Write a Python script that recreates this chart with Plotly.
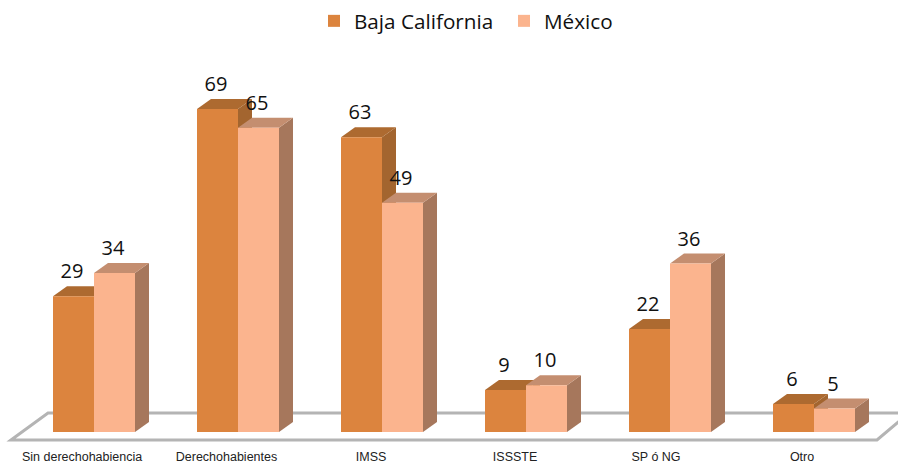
import plotly.graph_objects as go

# Data
categories = ["Sin derechohabiencia", "Derechohabientes", "IMSS", "ISSSTE", "SP ó NG", "Otro"]
baja_california = [29, 69, 63, 9, 22, 6]
mexico = [34, 65, 49, 10, 36, 5]
series_names = ["Baja California", "México"]
tick_positions = [-0.083, 0.92, 1.924, 2.924, 3.903, 4.917]

# Style
W, H = 898, 462
PX_X = 144.0          # pixels per category
PX_Y = 4.68           # pixels per value unit
BASE_PX = 432
PLOT_BOTTOM = 447
DEPTH_X = 14 / PX_X
DEPTH_Y = 10 / PX_Y
LABEL_LIFT = 3 / PX_Y
LABEL_SHIFT = -1.5 / PX_X
BAR_W = 41 / PX_X
colors_front = ["#DC843E", "#FBB48E"]
colors_top = ["#AD6A30", "#C48E70"]
colors_side = ["#A3652F", "#A6775C"]
FLOOR = "#B4B4B4"

x_pos = list(range(len(categories)))
x_rng = [-94 / PX_X, (W - 94) / PX_X]
y_rng = [-(PLOT_BOTTOM - BASE_PX) / PX_Y, BASE_PX / PX_Y]

fig = go.Figure()
shapes = []

# floor (in axis units)
fx = lambda p: (p - 94) / PX_X
fy = lambda p: (BASE_PX - p) / PX_Y
shapes.append(dict(type="path", layer="below",
    path=f"M{fx(11)},{fy(440)} L{fx(48)},{fy(413)} L{fx(909)},{fy(413)} L{fx(877)},{fy(440)} Z",
    line=dict(color=FLOOR, width=3), fillcolor="white"))


def poly(points, color):
    path = "M" + " L".join(f"{a},{b}" for a, b in points) + " Z"
    return dict(type="path", layer="below", path=path, fillcolor=color, line=dict(width=0))


for s, values in enumerate([baja_california, mexico]):
    for x, v in zip(x_pos, values):
        left = x + (s - 1) * BAR_W
        right = left + BAR_W
        shapes.append(poly([(right, 0), (right + DEPTH_X, DEPTH_Y),
                            (right + DEPTH_X, v + DEPTH_Y), (right, v)], colors_side[s]))
        shapes.append(poly([(left, v), (left + DEPTH_X, v + DEPTH_Y),
                            (right + DEPTH_X, v + DEPTH_Y), (right, v)], colors_top[s]))

for s, values in enumerate([baja_california, mexico]):
    fig.add_trace(go.Bar(x=x_pos, y=values, name=series_names[s], width=BAR_W,
                         offset=(s - 1) * BAR_W,
                         marker=dict(color=colors_front[s], line=dict(width=0))))

for s, values in enumerate([baja_california, mexico]):
    fig.add_trace(go.Scatter(x=[x + (s - 0.5) * BAR_W + LABEL_SHIFT for x in x_pos],
                             y=[v + DEPTH_Y + LABEL_LIFT for v in values],
                             text=[str(v) for v in values], mode="text",
                             textposition="top center", showlegend=False, hoverinfo="skip",
                             textfont=dict(family="Open Sans", size=20, color="#111111")))

fig.update_layout(
    width=W, height=H, margin=dict(l=0, r=0, t=0, b=H - PLOT_BOTTOM),
    paper_bgcolor="white", plot_bgcolor="white", shapes=shapes,
    barmode="overlay",
    font=dict(family="Open Sans", color="#111111"),
    legend=dict(orientation="h", x=314 / W, xanchor="left", y=0.998, yanchor="top",
                entrywidth=145, entrywidthmode="pixels",
                font=dict(family="Open Sans", size=20.7, color="#111111"),
                bgcolor="rgba(0,0,0,0)"),
    xaxis=dict(range=x_rng, tickmode="array", tickvals=tick_positions, ticktext=categories,
               automargin=False,
               showgrid=False, zeroline=False, showline=False, ticks="", ticklen=0,
               tickfont=dict(family="Liberation Sans", size=12.5, color="#222222")),
    yaxis=dict(range=y_rng, visible=False, showgrid=False, zeroline=False, automargin=False),
)
fig.write_html("out.html", config={"displayModeBar": False},
               post_script="document.body.style.margin='0';document.body.style.overflow='hidden';")
